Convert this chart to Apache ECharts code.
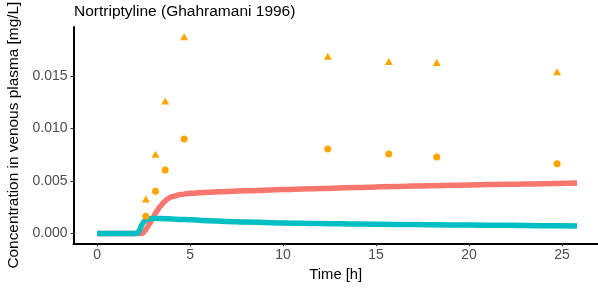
<!DOCTYPE html>
<html>
<head>
<meta charset="utf-8">
<script src="https://cdn.jsdelivr.net/npm/echarts@6/dist/echarts.min.js"></script>
<style>html,body{margin:0;padding:0;background:#fff}#c{width:598px;height:290px}</style>
</head>
<body>
<div id="c"></div>
<script>
// Simulated curves (time in h, concentration in mg/L)
var simTime = [0, 2.0, 2.1, 2.2, 2.3, 2.4, 2.5, 2.6, 2.7, 2.8, 3.0, 3.2, 3.4, 3.6, 3.8, 4.0, 4.5, 5, 6, 7, 8, 10, 12, 14, 16, 18, 20, 22, 24, 25.8];
var redConc = [0, 0, 0, 0, 0, 0.00002, 0.0001, 0.0003, 0.0006, 0.0009, 0.0015, 0.0021, 0.0026, 0.0030, 0.0033, 0.0035, 0.0037, 0.00383, 0.00393, 0.00400, 0.00406, 0.00418, 0.00428, 0.00437, 0.00446, 0.00455, 0.00462, 0.00468, 0.00474, 0.00480];
var tealConc = [0, 0, 0.00002, 0.0001, 0.0004, 0.0008, 0.0011, 0.00128, 0.00136, 0.0014, 0.00143, 0.00143, 0.00142, 0.00141, 0.0014, 0.00138, 0.00134, 0.0013, 0.00122, 0.00114, 0.00108, 0.0010, 0.00094, 0.00089, 0.00086, 0.00083, 0.0008, 0.00077, 0.00074, 0.00071];
// Observed data
var obsTime = [2.62, 3.14, 3.66, 4.68, 12.40, 15.68, 18.26, 24.73];
var obsCircle = [0.00163, 0.00401, 0.00604, 0.00898, 0.00803, 0.00756, 0.00727, 0.00664];
var obsTriangle = [0.00328, 0.00753, 0.01260, 0.01871, 0.01687, 0.01637, 0.01627, 0.01538];
// Ticks
var xTicks = [0, 5, 10, 15, 20, 25];
var yTicks = [0, 0.005, 0.010, 0.015];

function pairs(xs, ys){ return xs.map(function(x,i){ return [x, ys[i]]; }); }

var FONT = 'Liberation Sans, Arial, sans-serif';
var chart = echarts.init(document.getElementById('c'), null, {renderer:'canvas'});
chart.setOption({
  animation: false,
  backgroundColor: '#ffffff',
  title: {
    text: 'Nortriptyline (Ghahramani 1996)',
    left: 74, top: 4, padding: 0,
    textStyle: {fontFamily: FONT, fontSize: 15.5, fontWeight: 'normal', color: '#000'}
  },
  grid: {left: 73.5, right: 0, top: 27, bottom: 46.7, containLabel: false, outerBoundsMode: 'none'},
  xAxis: {
    type: 'value', min: -1.27, max: 26.93,
    name: 'Time [h]', nameLocation: 'middle', nameGap: 23,
    nameTextStyle: {fontFamily: FONT, fontSize: 14.8, color: '#000'},
    axisLine: {onZero: false, lineStyle: {color: '#000', width: 2}},
    axisTick: {customValues: xTicks, length: 3, lineStyle: {color: '#333', width: 1}},
    axisLabel: {customValues: xTicks, margin: 5, fontFamily: FONT, fontSize: 14, color: '#4d4d4d'},
    splitLine: {show: false}
  },
  yAxis: {
    type: 'value', min: -0.000936, max: 0.019646,
    name: 'Concentration in venous plasma [mg/L]', nameLocation: 'middle', nameGap: 51,
    nameTextStyle: {fontFamily: FONT, fontSize: 15.4, color: '#000'},
    axisLine: {onZero: false, lineStyle: {color: '#000', width: 2}},
    axisTick: {customValues: yTicks, length: 3, lineStyle: {color: '#333', width: 1}},
    axisLabel: {customValues: yTicks, margin: 6, fontFamily: FONT, fontSize: 14, color: '#4d4d4d',
      formatter: function(v){ return v.toFixed(3); }},
    splitLine: {show: false}
  },
  series: [
    {type: 'line', data: pairs(simTime, redConc), showSymbol: false, smooth: 0.3, smoothMonotone: 'x',
     lineStyle: {color: '#F8766D', width: 5.5}, z: 2},
    {type: 'line', data: pairs(simTime, tealConc), showSymbol: false, smooth: 0.3, smoothMonotone: 'x',
     lineStyle: {color: '#00BFC4', width: 5.5}, z: 3},
    {type: 'scatter', data: pairs(obsTime, obsCircle), symbol: 'circle', symbolSize: 7,
     itemStyle: {color: '#FFA500', opacity: 1}, z: 4},
    {type: 'scatter', data: pairs(obsTime, obsTriangle), symbol: 'triangle', symbolSize: [8, 7],
     itemStyle: {color: '#FFA500', opacity: 1}, z: 4}
  ]
});
</script>
</body>
</html>
